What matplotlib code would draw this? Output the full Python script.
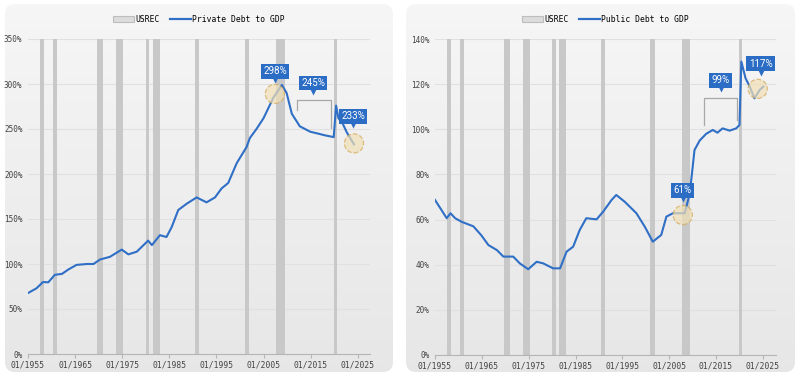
import numpy as np
import matplotlib
matplotlib.use('Agg')
import matplotlib.pyplot as plt
from matplotlib.patches import FancyBboxPatch, Patch
from matplotlib.lines import Line2D
from matplotlib.transforms import offset_copy

# --- data (decimal years, % of GDP) ---
PRIVATE_YEARS = [1955.1, 1956.8, 1958.2, 1959.3, 1960.7, 1962.2, 1963.6, 1965.3, 1967.5, 1968.9,
                 1970.3, 1972.4, 1974.9, 1976.3, 1978.1, 1980.5, 1981.3, 1983.0, 1984.4, 1985.5,
                 1986.9, 1988.7, 1990.8, 1992.9, 1994.7, 1996.1, 1997.5, 1999.3, 2001.4, 2002.1,
                 2003.5, 2005.0, 2007.1, 2008.9, 2009.9, 2011.0, 2012.7, 2014.9, 2016.5, 2018.0,
                 2019.9, 2020.4, 2020.9, 2021.8, 2022.7, 2023.5, 2024.2]
PRIVATE_DEBT = [68, 73, 80, 79.6, 88, 89, 94, 99, 100, 100,
                105, 108, 116, 110.7, 113.7, 126, 121, 132, 130, 141,
                160, 167, 174, 168.5, 174, 184, 190, 212, 230, 240,
                250, 262, 285, 299, 290, 267, 253, 247, 245, 243,
                241, 276, 262, 256, 246, 239, 233]

PUBLIC_YEARS = [1955.0, 1957.5, 1958.3, 1959.3, 1960.7, 1963.2, 1964.9, 1966.4, 1968.2, 1969.6,
                1971.7, 1973.1, 1974.9, 1976.7, 1978.1, 1980.2, 1981.7, 1983.1, 1984.5, 1985.9,
                1987.3, 1989.5, 1990.9, 1992.7, 1993.7, 1995.5, 1998.0, 1999.8, 2001.5, 2003.3,
                2004.4, 2005.8, 2008.3, 2009.4, 2010.4, 2011.5, 2012.9, 2014.3, 2015.3, 2016.4,
                2017.9, 2019.3, 2020.0, 2020.4, 2021.3, 2022.2, 2023.2, 2024.3, 2025.1]
PUBLIC_DEBT = [68.7, 60.6, 62.8, 60.6, 59, 57, 53, 48.7, 46.5, 43.6,
               43.6, 40.6, 38, 41.3, 40.6, 38.4, 38.4, 45.8, 48, 55.4,
               60.6, 60.1, 63.5, 68.7, 70.9, 67.9, 62.8, 56.8, 50.2, 53.2,
               61.3, 62.8, 62.8, 71.6, 90.8, 95, 98, 99.7, 98.5, 100.4,
               99.4, 100.4, 101.9, 130, 122.6, 118.9, 113.7, 117.4, 118.9]

# quarterly recession periods (start, end)
RECESSIONS = [(1957.5, 1958.5), (1960.25, 1961.25), (1969.75, 1971.0), (1973.75, 1975.25),
              (1980.0, 1980.75), (1981.5, 1983.0), (1990.5, 1991.25), (2001.0, 2002.0),
              (2007.75, 2009.5), (2020.0, 2020.5)]

X_TICKS = [1955, 1965, 1975, 1985, 1995, 2005, 2015, 2025]
X_TICK_LABELS = ['01/' + str(y) for y in X_TICKS]

BLUE = '#2f6fc6'
BOX_BLUE = '#2b6cc4'
BAR_GRAY = '#c8c8c8'
MONO = 'DejaVu Sans Mono'

fig = plt.figure(figsize=(8, 3.78), dpi=100)

# panel backgrounds with a light vertical gradient
bg = fig.add_axes([0, 0, 1, 1], zorder=-10)
bg.set_xlim(0, 800)
bg.set_ylim(378, 0)
bg.axis('off')
shade = np.linspace(0.965, 0.905, 256)
grad = np.dstack([shade, shade, shade]).reshape(256, 1, 3)
for x0, x1 in [(5, 393), (406, 795)]:
    panel = FancyBboxPatch((x0, 4), x1 - x0, 368, boxstyle='round,pad=0,rounding_size=10',
                           linewidth=0, facecolor='none')
    bg.add_patch(panel)
    im = bg.imshow(grad, extent=(x0, x1, 372, 4), origin='upper', aspect='auto',
                   interpolation='bilinear')
    im.set_clip_path(panel)


def style_axes(ax, ymax, ystep, xmax):
    ax.set_facecolor('none')
    for y0, y1 in RECESSIONS:
        ax.axvspan(y0, y1, color=BAR_GRAY, lw=0, zorder=1)
    ax.set_xlim(1955, xmax)
    ax.set_ylim(0, ymax)
    ax.set_yticks(np.arange(0, ymax + 1, ystep))
    ax.set_yticklabels(['{}%'.format(int(v)) for v in np.arange(0, ymax + 1, ystep)])
    ax.set_xticks(X_TICKS)
    ax.set_xticklabels(X_TICK_LABELS)
    ax.grid(axis='y', color='#e0e0e0', lw=0.8, zorder=0)
    ax.set_axisbelow(True)
    for s in ['top', 'right', 'left']:
        ax.spines[s].set_visible(False)
    ax.spines['bottom'].set_color('#b5b5b5')
    ax.tick_params(axis='y', length=0, pad=4, labelsize=5.5, labelcolor='#444444')
    ax.tick_params(axis='x', length=3, color='#b5b5b5', pad=2, labelsize=5.8, labelcolor='#444444')
    for lab in ax.get_xticklabels() + ax.get_yticklabels():
        lab.set_family(MONO)


def callout(ax, x, y, text):
    # box sits above (x, y), with a small pointer down to it
    ax.annotate(text, xy=(x, y), xytext=(0, 8.5), textcoords='offset points',
                ha='center', va='center', color='white', fontsize=7, family='Roboto',
                bbox=dict(boxstyle='square,pad=0.25', fc=BOX_BLUE, ec='none'), zorder=6)
    tr = offset_copy(ax.transData, fig=fig, x=0, y=2, units='points')
    ax.plot([x], [y], marker='v', ms=4.5, color=BOX_BLUE, mec='none', transform=tr, zorder=6)


def circle(ax, x, y):
    ax.scatter([x], [y], s=190, facecolor='#f1dfb6', edgecolor='#d2a757', alpha=0.7,
               linewidths=0.9, linestyles='--', zorder=5)


def bracket(ax, x0, x1, ytop, yleft, yright):
    ax.plot([x0, x0, x1, x1], [yleft, ytop, ytop, yright], color='#a8a8a8', lw=0.9, zorder=4)


def add_legend(ax, label):
    handles = [Patch(facecolor='#dcdcdc', edgecolor='#bdbdbd', lw=0.8),
               Line2D([0], [0], color=BLUE, lw=1.6)]
    ax.legend(handles, ['USREC', label], loc='lower center', bbox_to_anchor=(0.5, 1.025), ncol=2,
              frameon=False, prop={'family': MONO, 'size': 5.8}, handlelength=2.6, handleheight=0.6,
              columnspacing=1.2, handletextpad=0.2)


# left panel: private debt
ax1 = fig.add_axes([28 / 800, 1 - 354 / 378, 342 / 800, 315 / 378])
style_axes(ax1, 350, 50, 2027.6)
ax1.plot(PRIVATE_YEARS, PRIVATE_DEBT, color=BLUE, lw=1.5, zorder=3)
add_legend(ax1, 'Private Debt to GDP')
circle(ax1, 2007.4, 289)
callout(ax1, 2007.4, 301, '298%')
bracket(ax1, 2012.1, 2019.3, 282, 271, 251)
callout(ax1, 2015.5, 288, '245%')
circle(ax1, 2024.2, 234)
callout(ax1, 2024.0, 251, '233%')

# right panel: public debt
ax2 = fig.add_axes([435 / 800, 1 - 355 / 378, 341 / 800, 316 / 378])
style_axes(ax2, 140, 20, 2027.8)
ax2.plot(PUBLIC_YEARS, PUBLIC_DEBT, color=BLUE, lw=1.5, zorder=3)
add_legend(ax2, 'Public Debt to GDP')
circle(ax2, 2007.9, 62)
callout(ax2, 2007.9, 67.8, '61%')
bracket(ax2, 2012.4, 2019.4, 113.9, 101.9, 104)
callout(ax2, 2016.0, 116.5, '99%')
circle(ax2, 2023.9, 117.9)
callout(ax2, 2024.5, 123.8, '117%')

fig.savefig('out.png', dpi=100)
